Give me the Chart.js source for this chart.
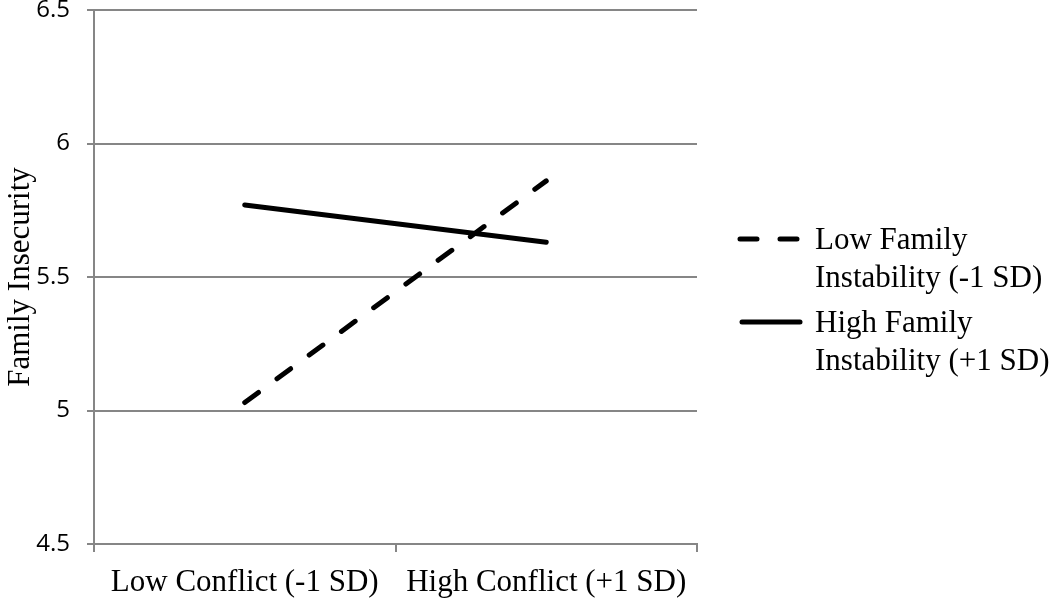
<!DOCTYPE html>
<html>
<head>
<meta charset="utf-8">
<script src="https://cdn.jsdelivr.net/npm/chart.js@4.4.1/dist/chart.umd.min.js"></script>
<style>
  html, body { margin: 0; padding: 0; background: #fff; }
  #wrap { width: 1050px; height: 599px; position: relative; }
</style>
</head>
<body>
<div id="wrap"><canvas id="chart"></canvas></div>
<script>
const categories = ["Low Conflict (-1 SD)", "High Conflict (+1 SD)"];
const lowInstability = [5.03, 5.86];
const highInstability = [5.77, 5.63];
const seriesNames = [["Low Family", "Instability (-1 SD)"], ["High Family", "Instability (+1 SD)"]];
const yTicks = [4.5, 5, 5.5, 6, 6.5];

const serif = "'Liberation Serif', 'Times New Roman', serif";
const gridColor = "#868686";

// legend drawn beside the plot, two-line labels
const sideLegend = {
  id: "sideLegend",
  afterDraw(chart) {
    const ctx = chart.ctx;
    chart.data.datasets.forEach((ds, i) => {
      const y = 239 + i * 83;
      ctx.save();
      ctx.strokeStyle = ds.borderColor;
      ctx.lineWidth = ds.borderWidth;
      ctx.lineCap = ds.borderCapStyle || "butt";
      ctx.setLineDash(ds.borderDash || []);
      ctx.beginPath();
      ctx.moveTo(ds.borderDash.length ? 740 : 742, y);
      ctx.lineTo(800, y);
      ctx.stroke();
      ctx.setLineDash([]);
      ctx.fillStyle = "#000";
      ctx.font = `31px ${serif}`;
      ctx.textBaseline = "alphabetic";
      ctx.textAlign = "left";
      seriesNames[i].forEach((line, k) => ctx.fillText(line, 815, y + 10 + k * 38));
      ctx.restore();
    });
  }
};

new Chart(document.getElementById("chart"), {
  type: "line",
  data: {
    labels: categories,
    datasets: [
      { label: seriesNames[0].join(" "), data: lowInstability, borderColor: "#000", borderWidth: 5,
        borderDash: [17, 23], borderCapStyle: "round", pointRadius: 0, tension: 0, fill: false },
      { label: seriesNames[1].join(" "), data: highInstability, borderColor: "#000", borderWidth: 5,
        borderDash: [], borderCapStyle: "round", pointRadius: 0, tension: 0, fill: false }
    ]
  },
  options: {
    responsive: true,
    maintainAspectRatio: false,
    animation: false,
    layout: { padding: { top: 10, right: 353, bottom: 0, left: 0 } },
    plugins: { legend: { display: false }, tooltip: { enabled: false } },
    scales: {
      x: {
        offset: true,
        grid: { offset: true, drawOnChartArea: false, drawTicks: true, tickLength: 8, color: gridColor, lineWidth: 2 },
        border: { display: true, color: gridColor, width: 2 },
        ticks: { color: "#000", font: { family: serif, size: 31 }, padding: 12, maxRotation: 0 },
        afterFit: scale => { scale.height = 55; scale.paddingLeft = 0; scale.paddingRight = 0; }
      },
      y: {
        min: 4.5, max: 6.5,
        afterBuildTicks: scale => { scale.ticks = yTicks.map(value => ({ value })); },
        grid: { color: gridColor, lineWidth: 2, tickLength: 7, drawTicks: true },
        border: { display: true, color: gridColor, width: 2 },
        ticks: { color: "#000", font: { family: "'Open Sans', sans-serif", size: 24 }, padding: 17,
          callback: value => String(value) },
        title: { display: true, text: "Family Insecurity", color: "#000",
          font: { family: serif, size: 31 }, padding: { top: 2, bottom: 0 } },
        afterFit: scale => { scale.width = 94; scale.paddingTop = 0; scale.paddingBottom = 0; }
      }
    }
  },
  plugins: [sideLegend]
});
</script>
</body>
</html>
